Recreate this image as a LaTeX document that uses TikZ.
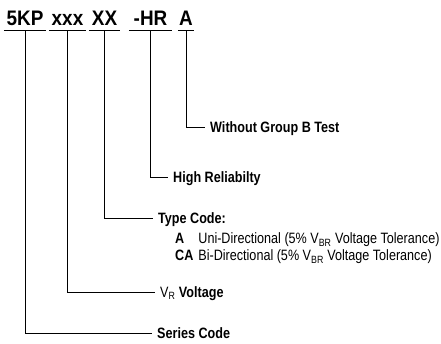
\documentclass[tikz,border=0pt]{standalone}
\usepackage{fontspec}
\setmainfont{Liberation Sans}[FakeStretch=0.84]
\newfontfamily\codefont{Liberation Sans}[FakeStretch=0.9]
\usetikzlibrary{positioning}

\begin{document}
\begin{tikzpicture}[x=1bp,y=-1bp]

\tikzset{
    codepart/.style={font=\fontsize{21bp}{25bp}\codefont\bfseries,anchor=base,inner xsep=0pt,inner ysep=5bp,text height=15bp,text depth=0pt},
    fieldlabel/.style={font=\fontsize{15bp}{17bp}\selectfont\bfseries,anchor=west,inner xsep=5bp,inner ysep=0pt,text height=11bp,text depth=0pt},
    listtext/.style={font=\fontsize{15bp}{17bp}\selectfont,inner sep=0pt},
    leader/.style={line width=0.75bp}
}

\useasboundingbox (0,0) rectangle (441,343);

% part number, one underlined field each
\node (psc) [codepart,minimum width=42bp] at (25,25) {5KP};
\node (pvr) [codepart,minimum width=37bp] at (67.5,25) {xxx};
\node (ptc) [codepart,minimum width=31bp] at (104.5,25) {XX};
\node (phr) [codepart,minimum width=43bp] at (150.5,25) {-HR};
\node (pgb) [codepart,minimum width=16bp] at (186,25) {A};

\foreach \p in {psc,pvr,ptc,phr,pgb}
    \draw [leader] (\p.south west) -- (\p.south east);

% meaning of each field
\node (lgb) [fieldlabel] at (205,127) {Without Group B Test};
\node (lhr) [fieldlabel] at (168,177) {High Reliabilty};
\node (ltc) [fieldlabel] at (153,218) {Type Code:};
\node (lvr) [fieldlabel] at (155,292) {\mdseries V\textsubscript{R} \bfseries Voltage};
\node (lsc) [fieldlabel] at (152,333) {Series Code};

\node (ltclist) [listtext,below right=8bp and 22bp of ltc.south west]
    {\begin{tabular}{@{}l@{\hspace{5bp}}l@{}}
     \textbf{A}  & Uni-Directional (5\% V\textsubscript{BR} Voltage Tolerance)\\
     \textbf{CA} & Bi-Directional (5\% V\textsubscript{BR} Voltage Tolerance)
     \end{tabular}};

\foreach \p/\l in {pgb/lgb,phr/lhr,ptc/ltc,pvr/lvr,psc/lsc}
    \draw [leader] (\p.south) |- (\l.west);

\end{tikzpicture}
\end{document}
